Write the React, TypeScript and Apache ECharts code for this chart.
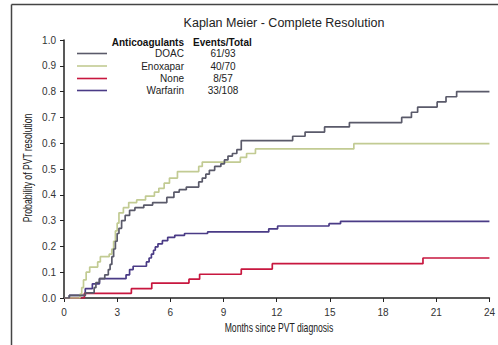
import React, { useEffect, useRef } from "react";
import * as echarts from "echarts";

const seriesNames = ["DOAC", "Enoxapar", "None", "Warfarin"];
const eventsTotal = ["61/93", "40/70", "8/57", "33/108"];
const seriesColors = ["#5a5a6a", "#c2cb93", "#c8173f", "#4a3b86"];

const xTicks = [0, 3, 6, 9, 12, 15, 18, 21, 24];

const doac: number[][] = [
  [0, 0], [0.3, 0.01], [1.2, 0.02], [1.7, 0.04], [1.8, 0.06], [2.0, 0.075], [2.3, 0.09],
  [2.5, 0.11], [2.6, 0.13], [2.7, 0.16], [2.8, 0.19], [2.9, 0.22], [3.0, 0.25], [3.1, 0.27],
  [3.25, 0.3], [3.45, 0.32], [3.7, 0.34], [4.0, 0.35], [4.5, 0.36], [5.0, 0.37], [5.8, 0.39],
  [6.2, 0.41], [6.5, 0.42], [6.9, 0.43], [7.6, 0.45], [7.8, 0.465], [8.0, 0.48], [8.2, 0.495],
  [8.5, 0.51], [8.85, 0.52], [9.05, 0.535], [9.25, 0.55], [9.5, 0.56], [9.75, 0.575],
  [10.0, 0.61], [12.9, 0.627], [13.6, 0.643], [14.7, 0.663], [16.1, 0.68], [19.05, 0.7],
  [19.6, 0.72], [19.95, 0.74], [21.05, 0.76], [21.55, 0.78], [22.15, 0.8], [24, 0.8],
];

const enoxapar: number[][] = [
  [0, 0], [0.9, 0.015], [1.0, 0.04], [1.1, 0.07], [1.25, 0.1], [1.45, 0.12], [1.9, 0.14],
  [2.05, 0.16], [2.55, 0.17], [2.7, 0.19], [2.8, 0.22], [2.9, 0.26], [3.0, 0.29], [3.1, 0.33],
  [3.35, 0.35], [3.65, 0.37], [4.1, 0.38], [4.6, 0.395], [5.1, 0.41], [5.35, 0.425],
  [5.65, 0.445], [5.95, 0.465], [6.4, 0.49], [7.6, 0.51], [7.8, 0.527], [9.95, 0.545],
  [10.3, 0.56], [10.8, 0.578], [16.35, 0.598], [24, 0.598],
];

const none: number[][] = [
  [0, 0], [1.15, 0.018], [3.8, 0.036], [4.95, 0.058], [7.05, 0.073], [7.65, 0.092],
  [10.0, 0.112], [11.75, 0.133], [20.25, 0.155], [24, 0.155],
];

const warfarin: number[][] = [
  [0, 0], [0.3, 0.01], [1.2, 0.036], [1.6, 0.055], [2.0, 0.075], [3.5, 0.09], [3.7, 0.11],
  [3.9, 0.123], [4.65, 0.14], [4.8, 0.155], [4.93, 0.17], [5.05, 0.185], [5.15, 0.198],
  [5.3, 0.21], [5.55, 0.222], [5.85, 0.235], [6.25, 0.243], [6.8, 0.25], [8.1, 0.256],
  [11.55, 0.268], [12.05, 0.279], [14.95, 0.288], [15.6, 0.297], [24, 0.297],
];

const allData = [doac, enoxapar, none, warfarin];

const xAxisName = "Months since PVT diagnosis";
const yAxisName = "Probability of PVT resolution";

const FONT = "'Liberation Sans', Arial, sans-serif";

export default function App() {
  const ref = useRef<HTMLDivElement>(null);
  useEffect(() => {
    if (!ref.current) return;
    const chart = echarts.init(ref.current, undefined, { renderer: "svg" });

    const legendGraphics: any[] = [
      {
        type: "text",
        x: 184, y: 42,
        style: { text: "Anticoagulants", font: `bold 10px ${FONT}`, fill: "#111", align: "right", verticalAlign: "middle" },
      },
      {
        type: "text",
        x: 193, y: 42,
        style: { text: "Events/Total", font: `bold 10px ${FONT}`, fill: "#111", align: "left", verticalAlign: "middle" },
      },
    ];
    const rowY = [53.5, 66, 78.5, 90.5];
    seriesNames.forEach((n, i) => {
      legendGraphics.push({
        type: "line",
        shape: { x1: 77, y1: rowY[i], x2: 107, y2: rowY[i] },
        style: { stroke: seriesColors[i], lineWidth: 1.6 },
      });
      legendGraphics.push({
        type: "text",
        x: 184, y: rowY[i],
        style: { text: n, font: `10px ${FONT}`, fill: "#222", align: "right", verticalAlign: "middle" },
      });
      legendGraphics.push({
        type: "text",
        x: 223, y: rowY[i],
        style: { text: eventsTotal[i], font: `10px ${FONT}`, fill: "#222", align: "center", verticalAlign: "middle" },
      });
    });

    chart.setOption({
      animation: false,
      backgroundColor: "#fff",
      title: {
        text: "Kaplan Meier - Complete Resolution",
        left: 279, top: 11, textAlign: "center",
        textStyle: { fontFamily: FONT, fontSize: 12.5, fontWeight: "normal", color: "#222" },
      },
      grid: { left: 64, right: 7, top: 40, bottom: 47 },
      xAxis: {
        type: "value", min: 0, max: 24, interval: 3,
        axisLine: { show: true, onZero: false, lineStyle: { color: "#222", width: 1.5 } },
        axisTick: { show: true, length: 4, lineStyle: { color: "#222" } },
        axisLabel: { fontFamily: FONT, fontSize: 10, color: "#333", margin: 9,
          formatter: (v: number) => (xTicks.includes(v) ? String(v) : "") },
        splitLine: { show: false },
      },
      yAxis: {
        type: "value", min: 0, max: 1, interval: 0.1,
        axisLine: { show: true, lineStyle: { color: "#222", width: 1.5 } },
        axisTick: { show: true, length: 4, lineStyle: { color: "#222" } },
        axisLabel: { fontFamily: FONT, fontSize: 10, color: "#333", margin: 8,
          formatter: (v: number) => v.toFixed(1) },
        splitLine: { show: false },
      },
      series: seriesNames.map((n, i) => ({
        name: n,
        type: "line",
        step: "end",
        data: allData[i],
        showSymbol: false,
        lineStyle: { color: seriesColors[i], width: 1.7 },
        itemStyle: { color: seriesColors[i] },
        z: 4 - i,
      })),
      graphic: [
        { type: "line", shape: { x1: 11.5, y1: 4.5, x2: 498, y2: 4.5 }, style: { stroke: "#444", lineWidth: 1.5 } },
        { type: "line", shape: { x1: 11.5, y1: 4.5, x2: 11.5, y2: 345 }, style: { stroke: "#444", lineWidth: 1.5 } },
        {
          type: "text", x: 279, y: 328, scaleX: 0.72, scaleY: 1,
          style: { text: xAxisName, font: `12px ${FONT}`, fill: "#222", align: "center", verticalAlign: "middle" },
        },
        {
          type: "text", x: 28, y: 168, rotation: Math.PI / 2, scaleX: 0.72, scaleY: 1,
          style: { text: yAxisName, font: `12px ${FONT}`, fill: "#222", align: "center", verticalAlign: "middle" },
        },
        ...legendGraphics,
      ],
    });
    return () => chart.dispose();
  }, []);
  return (
    <div
      ref={ref}
      style={{ position: "fixed", left: 0, top: 0, width: 498, height: 345 }}
    />
  );
}
